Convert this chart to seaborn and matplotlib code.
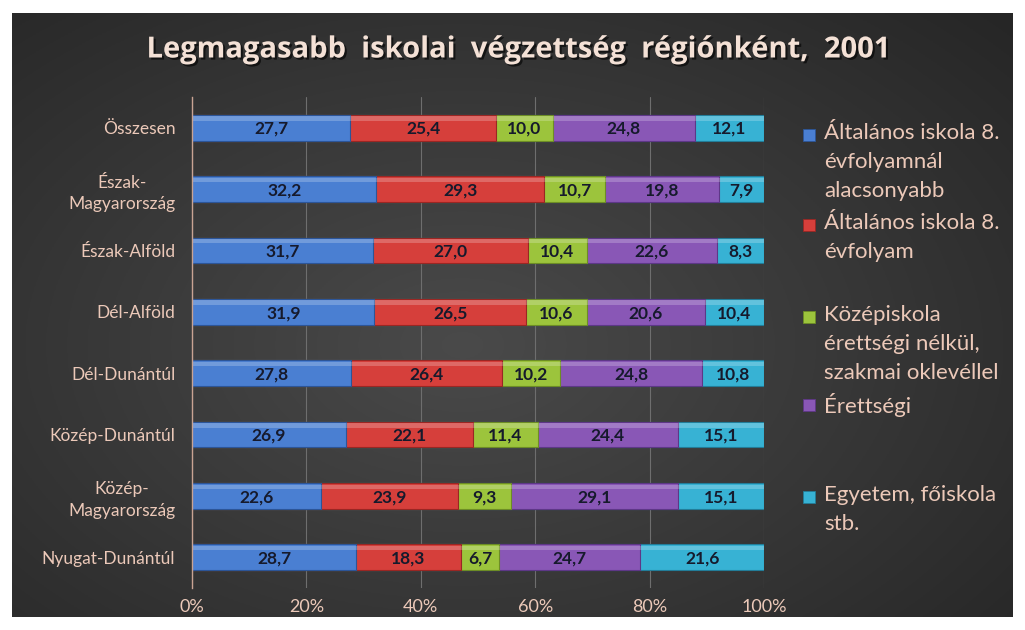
import matplotlib
matplotlib.use('Agg')
import matplotlib.pyplot as plt
import matplotlib.patches as mpatches
import matplotlib.patheffects as pe
import numpy as np
import seaborn as sns

# Adatok (KSH, 2001)
regions = ['Összesen', 'Észak-\nMagyarország', 'Észak-Alföld', 'Dél-Alföld',
           'Dél-Dunántúl', 'Közép-Dunántúl', 'Közép-\nMagyarország', 'Nyugat-Dunántúl']
categories = ['Általános iskola 8.\névfolyamnál\nalacsonyabb',
              'Általános iskola 8.\névfolyam',
              'Középiskola\nérettségi nélkül,\nszakmai oklevéllel',
              'Érettségi',
              'Egyetem, főiskola\nstb.']
alap_alatt = [27.7, 32.2, 31.7, 31.9, 27.8, 26.9, 22.6, 28.7]
alap = [25.4, 29.3, 27.0, 26.5, 26.4, 22.1, 23.9, 18.3]
szakmai = [10.0, 10.7, 10.4, 10.6, 10.2, 11.4, 9.3, 6.7]
erettsegi = [24.8, 19.8, 22.6, 20.6, 24.8, 24.4, 29.1, 24.7]
felsofoku = [12.1, 7.9, 8.3, 10.4, 10.8, 15.1, 15.1, 21.6]
xticks = [0, 20, 40, 60, 80, 100]

colors = ['#4a7fd2', '#d63f3b', '#9cc43c', '#8957b6', '#37b2d4']
edge_colors = ['#2c5598', '#9a2623', '#6d8d25', '#5e3787', '#227d99']
text_col = '#ecc9b9'

values = np.array([alap_alatt, alap, szakmai, erettsegi, felsofoku]).T
share = values / values.sum(axis=1, keepdims=True) * 100
cum = share.cumsum(axis=1)

sns.set_theme(style='dark')
plt.rcParams['font.family'] = ['Lato', 'DejaVu Sans']

fig = plt.figure(figsize=(10.25, 6.3), dpi=100, facecolor='white')

# sötét háttér enyhe sugaras átmenettel
bg = fig.add_axes([12 / 1025, 13 / 630, 1001 / 1025, 604 / 630])
yy, xx = np.mgrid[0:1:300j, 0:1:500j]
r = np.sqrt(((xx - 0.45) / 0.75) ** 2 + ((yy - 0.55) / 0.8) ** 2)
shade = np.clip(r, 0, 1)
light = np.array([0x4a, 0x4a, 0x4a]) / 255
dark = np.array([0x26, 0x26, 0x26]) / 255
img = light + (dark - light) * shade[..., None]
bg.imshow(img, aspect='auto', extent=[0, 1, 0, 1])
bg.axis('off')

ax = fig.add_axes([192 / 1025, 42 / 630, 572 / 1025, 491 / 630])
ax.set_facecolor('none')

# 100%-os halmozott sávok: kumulált értékek hátulról előre
for k in reversed(range(len(categories))):
    sns.barplot(x=cum[:, k], y=regions, color=colors[k], orient='h', width=0.42,
                saturation=1, edgecolor=edge_colors[k], linewidth=0.8, ax=ax)

# fényes felső csík (3D hatás)
ypos = np.arange(len(regions))
for k in range(len(categories)):
    ax.barh(ypos - 0.15, share[:, k], left=cum[:, k] - share[:, k], height=0.07,
            color='white', alpha=0.22, linewidth=0)

for k in range(len(categories)):
    for i in range(len(regions)):
        ax.text(cum[i, k] - share[i, k] / 2, i + 0.02,
                f'{values[i, k]:.1f}'.replace('.', ','),
                ha='center', va='center', fontsize=12.5, fontweight='bold', color='#161a2c')

ax.set_xlim(0, 100)
ax.set_ylim(len(regions) - 0.5, -0.5)
ax.set_xticks(xticks)
ax.set_xticklabels([f'{t}%' for t in xticks])
ax.set_xlabel('')
ax.set_ylabel('')
ax.tick_params(axis='x', colors=text_col, labelsize=13, length=0, pad=8)
ax.tick_params(axis='y', colors=text_col, labelsize=12.5, length=0, pad=12)
for lab in ax.get_yticklabels():
    lab.set_multialignment('center')
    lab.set_linespacing(1.4)

ax.grid(axis='x', color='#6e6e6e', linewidth=0.8)
ax.grid(axis='y', visible=False)
ax.set_axisbelow(True)
for s in ['top', 'right', 'bottom']:
    ax.spines[s].set_visible(False)
ax.spines['left'].set_color('#c9a393')
ax.spines['left'].set_linewidth(1.0)

fig.text(518 / 1025, 1 - 50 / 630, 'Legmagasabb  iskolai  végzettség  régiónként,  2001',
         ha='center', va='center', fontsize=21, fontweight='bold', color='#f4e1d6',
         family=['Open Sans', 'DejaVu Sans'],
         path_effects=[pe.withSimplePatchShadow(offset=(1.5, -1.5), shadow_rgbFace='black', alpha=0.6)])

# jelmagyarázat (Excel-szerű elrendezés)
legend_first_line = [135, 225, 317, 405, 497]
line_h = 29.5
for k, lab in enumerate(categories):
    y0 = legend_first_line[k]
    fig.patches.append(mpatches.Rectangle((803 / 1025, 1 - (y0 + 6) / 630), 12 / 1025, 12 / 630,
                                          transform=fig.transFigure, facecolor=colors[k],
                                          edgecolor=edge_colors[k], linewidth=0.6))
    fig.text(824 / 1025, 1 - (y0 - line_h / 2 + 3) / 630, lab, ha='left', va='top',
             fontsize=16, color=text_col, linespacing=1.55)

fig.savefig('out.png', dpi=100, facecolor='white')
